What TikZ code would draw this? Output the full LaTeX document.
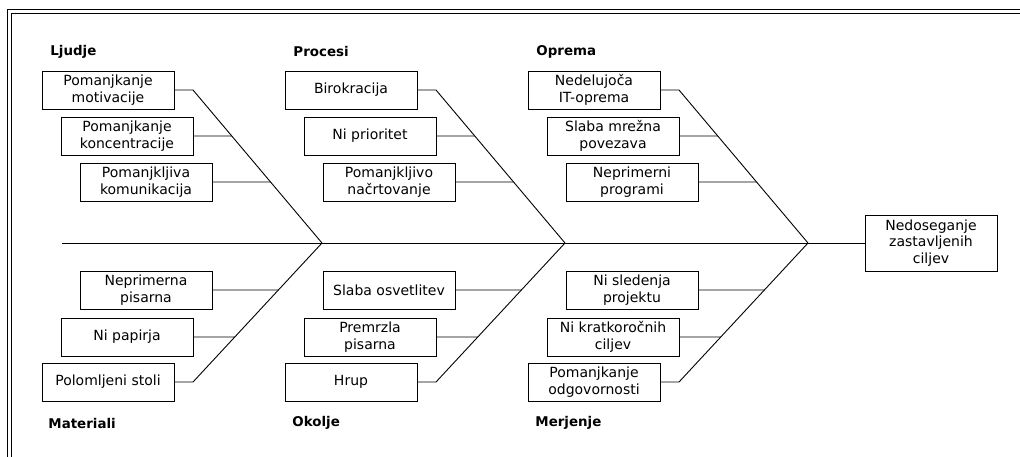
\documentclass[tikz,border=0pt]{standalone}
\usepackage{fontspec}
\setmainfont{DejaVu Sans}

\begin{document}
\begin{tikzpicture}[x = 1pt, y = -1pt, % pixel units, y downwards
                line width = 0.9pt, % line style
                font = \fontsize{14}{16.5}\selectfont
            ]

            \tikzstyle{cause}=[draw = black, rectangle, align = center,
            inner sep = 0pt, minimum width = 132pt, minimum height = 38pt,
            line width = 1pt]
            \tikzstyle{head}=[anchor = west, inner sep = 0pt,
            font = \fontsize{13.4}{16}\selectfont\bfseries]

            \useasboundingbox (0,0) rectangle (1020,456);
            \clip (0,0) rectangle (1020,456);
            % double frame, right and bottom sides fall outside
            \draw[double, double distance = 2.4pt, line width = 1.5pt]
            (9.5,11.5) rectangle (1040,480);

            % categories
            \node[head] (ljudje) at (50,52) {Ljudje};
            \node[head] (procesi) at (293,52) {Procesi};
            \node[head] (oprema) at (536,52) {Oprema};
            \node[head] (materiali) at (48,423) {Materiali};
            \node[head] (okolje) at (292,423) {Okolje};
            \node[head] (merjenje) at (535,423) {Merjenje};

            % causes
            \node[cause] (l1) at (108,90) {Pomanjkanje\\motivacije};
            \node[cause] (l2) at (127,136) {Pomanjkanje\\koncentracije};
            \node[cause] (l3) at (146,182) {Pomanjkljiva\\komunikacija};
            \node[cause] (p1) at (351,90) {Birokracija};
            \node[cause] (p2) at (370,136) {Ni prioritet};
            \node[cause] (p3) at (389,182) {Pomanjkljivo\\načrtovanje};
            \node[cause] (o1) at (594,90) {Nedelujoča\\IT-oprema};
            \node[cause] (o2) at (613,136) {Slaba mrežna\\povezava};
            \node[cause] (o3) at (632,182) {Neprimerni\\programi};
            \node[cause] (m1) at (146,290) {Neprimerna\\pisarna};
            \node[cause] (m2) at (127,337) {Ni papirja};
            \node[cause] (m3) at (108,382) {Polomljeni stoli};
            \node[cause] (k1) at (389,290) {Slaba osvetlitev};
            \node[cause] (k2) at (370,337) {Premrzla\\pisarna};
            \node[cause] (k3) at (351,382) {Hrup};
            \node[cause] (r1) at (632,290) {Ni sledenja\\projektu};
            \node[cause] (r2) at (613,337) {Ni kratkoročnih\\ciljev};
            \node[cause] (r3) at (594,382) {Pomanjkanje\\odgovornosti};

            % effect
            \node[cause, minimum height = 56pt] (effect) at (931,243)
            {Nedoseganje\\zastavljenih\\ciljev};

            \coordinate (tail) at (62,243);
            \coordinate (j1) at (322,243); \coordinate (j2) at (565,243);
            \coordinate (j3) at (808,243);
            \coordinate (t1) at (193,90); \coordinate (t2) at (436,90);
            \coordinate (t3) at (679,90);
            \coordinate (b1) at (193,382); \coordinate (b2) at (436,382);
            \coordinate (b3) at (679,382);

            % spine
            \draw (tail) -- (effect.west);

            % bones
            \draw (l1.east) -- (t1) -- coordinate[pos=0.3007] (l2x)
            coordinate[pos=0.6013] (l3x) (j1);
            \draw (p1.east) -- (t2) -- coordinate[pos=0.3007] (p2x)
            coordinate[pos=0.6013] (p3x) (j2);
            \draw (o1.east) -- (t3) -- coordinate[pos=0.3007] (o2x)
            coordinate[pos=0.6013] (o3x) (j3);
            \draw (m3.east) -- (b1) -- coordinate[pos=0.3237] (m2x)
            coordinate[pos=0.6619] (m1x) (j1);
            \draw (k3.east) -- (b2) -- coordinate[pos=0.3237] (k2x)
            coordinate[pos=0.6619] (k1x) (j2);
            \draw (r3.east) -- (b3) -- coordinate[pos=0.3237] (r2x)
            coordinate[pos=0.6619] (r1x) (j3);

            \draw (l2.east) -- (l2x); \draw (l3.east) -- (l3x);
            \draw (p2.east) -- (p2x); \draw (p3.east) -- (p3x);
            \draw (o2.east) -- (o2x); \draw (o3.east) -- (o3x);
            \draw (m1.east) -- (m1x); \draw (m2.east) -- (m2x);
            \draw (k1.east) -- (k1x); \draw (k2.east) -- (k2x);
            \draw (r1.east) -- (r1x); \draw (r2.east) -- (r2x);
\end{tikzpicture}
\end{document}
